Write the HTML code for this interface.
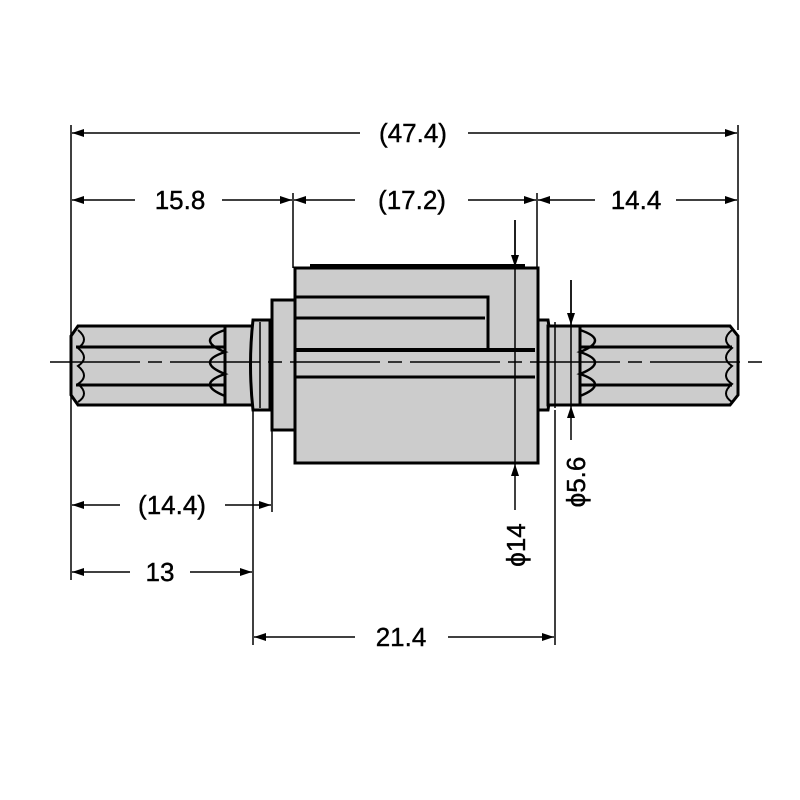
<!DOCTYPE html>
<html><head><style>body{margin:0;background:#fff}svg{display:block}text{font-family:"Liberation Sans",sans-serif;font-size:26px;fill:#000;stroke:#000;stroke-width:0.4}</style></head><body>
<svg width="800" height="800" viewBox="0 0 800 800">
<defs><marker id="a" viewBox="0 0 12 8" refX="12" refY="4" markerWidth="12" markerHeight="8" orient="auto-start-reverse" markerUnits="userSpaceOnUse"><path d="M0,0L12,4L0,8z" fill="#000"/></marker></defs>
<g stroke="#000" stroke-width="3" fill="#ccc">
<path d="M78,326H225V405H78L71,395V336z"/>
<rect x="225" y="326" width="28" height="79"/>
<path d="M253,320h17v90h-17q-5,-45 0,-90z"/>
<rect x="272" y="300" width="23" height="130"/>
<rect x="295" y="268" width="243" height="195"/>
<path d="M538,320h10q8,45 0,90h-10z"/>
<rect x="548" y="326" width="32" height="79"/>
<path d="M580,326H730L738,336V395L730,405H580z"/>
</g>
<g stroke="#000" stroke-width="3" fill="none">
<line x1="310" y1="266" x2="525" y2="266" stroke-width="4"/>
<path d="M295,297H488V350"/>
<line x1="295" y1="318" x2="485" y2="318"/>
<line x1="295" y1="350" x2="535" y2="350" stroke-width="4"/>
<line x1="295" y1="377" x2="535" y2="377"/>
<line x1="76" y1="347" x2="225" y2="347"/><line x1="76" y1="385" x2="225" y2="385"/>
<line x1="580" y1="347" x2="732" y2="347"/><line x1="580" y1="385" x2="732" y2="385"/>
<path d="M225,330q-30,10 0,22q-30,10 0,22q-30,10 0,22" stroke-width="2.5"/>
<path d="M580,330q30,10 0,22q30,10 0,22q30,10 0,22" stroke-width="2.5"/>
<path d="M78,330q12,10 0,18q12,10 0,18q12,10 0,18q12,10 0,18" stroke-width="2"/>
<path d="M732,330q-12,10 0,18q-12,10 0,18q-12,10 0,18q-12,10 0,18" stroke-width="2"/>
<line x1="260" y1="322" x2="260" y2="408" stroke-width="1.5"/>
<line x1="555" y1="322" x2="555" y2="408" stroke-width="1.5"/>
</g>
<line x1="50" y1="362" x2="770" y2="362" stroke="#000" stroke-width="1.5" stroke-dasharray="90,8,14,8"/>
<g stroke="#000" stroke-width="1.5" fill="none">
<line x1="71" y1="125" x2="71" y2="580"/>
<line x1="738" y1="125" x2="738" y2="330"/>
<line x1="293" y1="193" x2="293" y2="268"/>
<line x1="537" y1="193" x2="537" y2="268"/>
<line x1="272" y1="410" x2="272" y2="512"/>
<line x1="253" y1="410" x2="253" y2="645"/>
<line x1="555" y1="410" x2="555" y2="645"/>
<line x1="515" y1="220" x2="515" y2="463"/>
<line x1="571" y1="280" x2="571" y2="405"/>
</g>
<g stroke="#000" stroke-width="1.5" marker-end="url(#a)">
<line x1="360" y1="133" x2="72" y2="133"/><line x1="468" y1="133" x2="737" y2="133"/>
<line x1="135" y1="200" x2="72" y2="200"/><line x1="222" y1="200" x2="292" y2="200"/>
<line x1="355" y1="200" x2="294" y2="200"/><line x1="468" y1="200" x2="536" y2="200"/>
<line x1="595" y1="200" x2="538" y2="200"/><line x1="676" y1="200" x2="737" y2="200"/>
<line x1="120" y1="505" x2="72" y2="505"/><line x1="225" y1="505" x2="271" y2="505"/>
<line x1="130" y1="572" x2="72" y2="572"/><line x1="190" y1="572" x2="252" y2="572"/>
<line x1="355" y1="637" x2="254" y2="637"/><line x1="448" y1="637" x2="554" y2="637"/>
<line x1="515" y1="220" x2="515" y2="267"/><line x1="515" y1="510" x2="515" y2="464"/>
<line x1="571" y1="280" x2="571" y2="325"/><line x1="571" y1="440" x2="571" y2="406"/>
</g>
<text x="413" y="142" text-anchor="middle">(47.4)</text>
<text x="180" y="209" text-anchor="middle">15.8</text>
<text x="412" y="209" text-anchor="middle">(17.2)</text>
<text x="636" y="209" text-anchor="middle">14.4</text>
<text x="172" y="514" text-anchor="middle">(14.4)</text>
<text x="160" y="581" text-anchor="middle">13</text>
<text x="401" y="646" text-anchor="middle">21.4</text>
<text transform="translate(525,545) rotate(-90)" text-anchor="middle">ϕ14</text>
<text transform="translate(585,482) rotate(-90)" text-anchor="middle">ϕ5.6</text>
</svg>
</body></html>
